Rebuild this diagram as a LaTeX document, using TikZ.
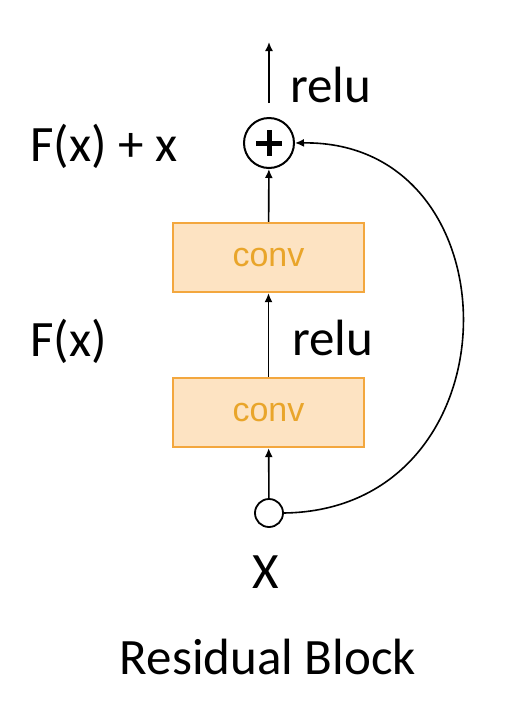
\documentclass[tikz,border=0pt]{standalone}
\usepackage{fontspec}
\setmainfont{Carlito}
\newfontfamily\convfont{Liberation Sans}
\usetikzlibrary{arrows.meta}
\definecolor{convfill}{HTML}{FDE3C2}
\definecolor{convdraw}{HTML}{F3A73E}
\definecolor{convtext}{HTML}{E9A52A}
\begin{document}
\begin{tikzpicture}[x=1pt,y=-1pt,
  convbox/.style={draw=convdraw,line width=2.2pt,fill=convfill,minimum width=191pt,minimum height=69pt,inner sep=0pt,
    font=\convfont\fontsize{34}{34}\selectfont,text=convtext},
  lbl/.style={font=\fontsize{51}{56}\selectfont,inner sep=0pt},
  conn/.style={line width=1.6pt,-{Latex[length=9pt,width=8pt]}}]
\useasboundingbox (0,0) rectangle (515,721);
\node[convbox] (c1) at (268.5,257.5) {conv};
\node[convbox] (c2) at (268.5,412.5) {conv};
\node[draw,circle,line width=2pt,minimum size=50pt,inner sep=0pt] (plus) at (269,143) {};
\draw[line width=5pt] (plus.center) ++(-13,0) -- ++(26,0);
\draw[line width=5pt] (plus.center) ++(0,-13) -- ++(0,26);
\node[draw,circle,line width=1.8pt,minimum size=28pt,inner sep=0pt,fill=white] (inp) at (269,513) {};
\coordinate (out) at (269,42);
\coordinate (outstart) at (269,103);
\draw[conn] (inp) -- (c2);
\draw[conn] (c2) -- (c1);
\draw[conn] (c1) -- (plus);
\draw[conn] (outstart) -- (out);
\draw[conn] (inp.east) .. controls (520,510) and (520,140) .. (plus.east);
\node[lbl,anchor=west] (r1) at (290,85) {relu};
\node[lbl,anchor=west] (r2) at (292,338) {relu};
\node[lbl,anchor=west] (fx1) at (30,146) {F(x) + x};
\node[lbl,anchor=west] (fx2) at (30,341) {F(x)};
\node[lbl] (xl) at (266,572) {X};
\node[lbl] (rb) at (268,657) {Residual Block};
\end{tikzpicture}
\end{document}
